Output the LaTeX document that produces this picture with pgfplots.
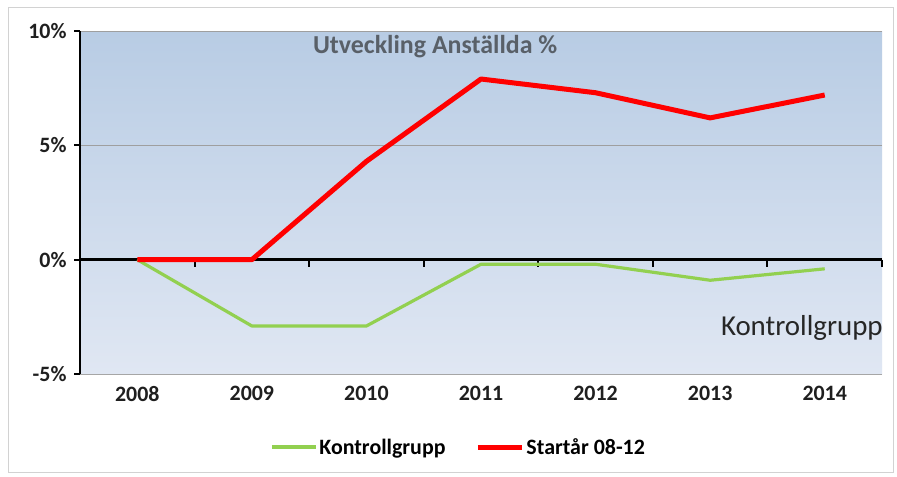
\documentclass[border=0pt]{standalone}
\usepackage{pgfplots}
\pgfplotsset{compat=1.18}
\usepackage{fontspec}
\setmainfont{Carlito}
\definecolor{ctrl}{RGB}{146,208,80}
\definecolor{start}{RGB}{255,0,0}
\definecolor{bgtop}{RGB}{184,204,228}
\definecolor{bgbot}{RGB}{224,231,243}
\definecolor{titlegray}{RGB}{89,96,104}
\begin{document}
\begin{tikzpicture}[x=1bp,y=1bp]
\fill[white] (0,0) rectangle (897,-477);
\draw[gray!35, line width=1bp] (8,-8) rectangle (893,-472);
\begin{axis}[
  at={(80bp,-374bp)}, anchor=south west,
  scale only axis, width=802bp, height=343bp,
  xmin=-0.5, xmax=6.5, ymin=-5, ymax=10,
  axis x line*=bottom, axis y line*=left,
  x axis line style={draw=gray!70, line width=0.8bp},
  y axis line style={draw=none},
  xtick={0,...,6}, xticklabels={2008,2009,2010,2011,2012,2013,2014},
  xtick style={draw=none},
  ytick={-5,0,5,10},
  yticklabel={\pgfmathprintnumber{\tick}\%},
  ytick style={draw=none},
  /pgf/number format/assume math mode=true,
  ticklabel style={font=\bfseries\fontsize{22}{22}\selectfont, text=black!88},
  xticklabel style={yshift=-9bp},
  yticklabel style={xshift=-10bp},
  ymajorgrids, grid style={draw=gray!75, line width=1bp},
  axis background/.style={top color=bgtop, bottom color=bgbot},
  clip=false,
  legend style={at={(0.472,-0.213)}, anchor=center, draw=none, fill=none,
    legend columns=2, font=\bfseries\fontsize{22}{22}\selectfont,
    /tikz/every even column/.append style={column sep=28bp}},
  legend image code/.code={\draw[#1] (0bp,0bp) -- (44bp,0bp);},
]
\draw[black, line width=2.5bp] (axis cs:-0.5,0) -- (axis cs:6.5,0);
\draw[black, line width=2.5bp] (axis cs:-0.5,-5) -- (axis cs:-0.5,10);
\draw[black, line width=2bp] (axis cs:-0.5,-5) -- ([xshift=-6bp]axis cs:-0.5,-5);
\draw[black, line width=2bp] (axis cs:-0.5,0) -- ([xshift=-6bp]axis cs:-0.5,0);
\draw[black, line width=2bp] (axis cs:-0.5,5) -- ([xshift=-6bp]axis cs:-0.5,5);
\draw[black, line width=2bp] (axis cs:-0.5,10) -- ([xshift=-6bp]axis cs:-0.5,10);
\draw[black, line width=2bp] (axis cs:0.5,0) -- ([yshift=-7bp]axis cs:0.5,0);
\draw[black, line width=2bp] (axis cs:1.5,0) -- ([yshift=-7bp]axis cs:1.5,0);
\draw[black, line width=2bp] (axis cs:2.5,0) -- ([yshift=-7bp]axis cs:2.5,0);
\draw[black, line width=2bp] (axis cs:3.5,0) -- ([yshift=-7bp]axis cs:3.5,0);
\draw[black, line width=2bp] (axis cs:4.5,0) -- ([yshift=-7bp]axis cs:4.5,0);
\draw[black, line width=2bp] (axis cs:5.5,0) -- ([yshift=-7bp]axis cs:5.5,0);
\draw[black, line width=2bp] (axis cs:6.5,0) -- ([yshift=-7bp]axis cs:6.5,0);
\addplot[ctrl, line width=3.2bp, line join=round, no marks] coordinates {
(0,0) (1,-2.9) (2,-2.9) (3,-0.2) (4,-0.2) (5,-0.9) (6,-0.4)};
\addlegendentry{Kontrollgrupp}
\addplot[start, line width=5bp, line join=round, no marks] coordinates {
(0,0) (1,0) (2,4.3) (3,7.9) (4,7.3) (5,6.2) (6,7.2)};
\addlegendentry{Startår 08-12}
\node[font=\bfseries\fontsize{26}{26}\selectfont, text=titlegray] at (axis cs:2.60,9.3) {Utveckling Anställda \%};
\node[font=\fontsize{29}{29}\selectfont, text=black!85] at (axis cs:5.80,-3.0) {Kontrollgrupp};
\end{axis}
\end{tikzpicture}
\end{document}
